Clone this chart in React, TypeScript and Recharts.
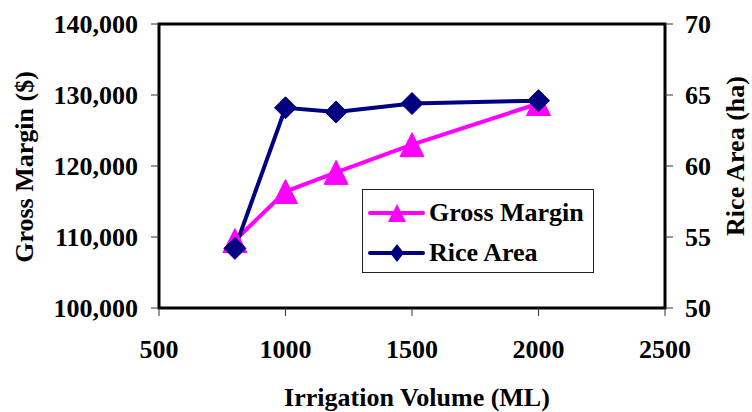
import { ComposedChart, Line, ReferenceArea, XAxis, YAxis } from "recharts";

// Irrigation volume (ML) vs. farm gross margin and rice area
const volumes = [800, 1000, 1200, 1500, 2000];
const grossMargin = [109500, 116400, 119100, 123000, 128800];
const riceArea = [54.2, 64.1, 63.8, 64.4, 64.6];

const volumeTicks = [500, 1000, 1500, 2000, 2500];
const marginTicks = [100000, 110000, 120000, 130000, 140000];
const areaTicks = [50, 55, 60, 65, 70];

const data = volumes.map((volume, i) => ({
  volume,
  grossMargin: grossMargin[i],
  riceArea: riceArea[i]
}));

const FONT = '"Liberation Serif", "Times New Roman", serif';
const PINK = "#FF00FF";
const NAVY = "#000080";

const tickStyle = { fill: "#000", fontSize: 26, fontWeight: "bold", fontFamily: FONT };

function triangle(cx: number, cy: number, half: number) {
  return `${cx},${cy - half} ${cx + half},${cy + half} ${cx - half},${cy + half}`;
}

function TriangleDot(props: any) {
  const { cx, cy, index } = props;
  if (cx == null || cy == null) return null;
  return <polygon key={`tri-${index}`} points={triangle(cx, cy, 12)} fill={PINK} stroke={PINK} />;
}

function DiamondDot(props: any) {
  const { cx, cy, index } = props;
  if (cx == null || cy == null) return null;
  return (
    <polygon
      key={`dia-${index}`}
      points={`${cx},${cy - 11} ${cx + 11},${cy} ${cx},${cy + 11} ${cx - 11},${cy}`}
      fill={NAVY}
      stroke={NAVY}
    />
  );
}

const legendItems = [
  { name: "Gross Margin", color: PINK, shape: "triangle" },
  { name: "Rice Area", color: NAVY, shape: "diamond" }
];

// boxed legend sitting inside the lower right of the plot
function ChartLegend() {
  return (
    <div
      style={{
        position: "absolute",
        left: 362,
        top: 189,
        width: 232,
        height: 84,
        boxSizing: "border-box",
        border: "1px solid #222",
        background: "#fff",
        paddingTop: 3
      }}
    >
      {legendItems.map((item) => (
        <div key={item.name} style={{ display: "flex", alignItems: "center", height: 40 }}>
          <svg width={66} height={24} style={{ flex: "none" }}>
            <line x1={7} y1={12} x2={60} y2={12} stroke={item.color} strokeWidth={4} strokeLinecap="round" />
            {item.shape === "triangle" ? (
              <polygon points={triangle(34, 12, 9)} fill={item.color} />
            ) : (
              <polygon points="34,3 41,12 34,21 27,12" fill={item.color} />
            )}
          </svg>
          <span style={{ fontFamily: FONT, fontWeight: "bold", fontSize: 26, color: "#000", lineHeight: 1 }}>
            {item.name}
          </span>
        </div>
      ))}
    </div>
  );
}

const titleStyle = { fontFamily: FONT, fontWeight: "bold", fontSize: 26, fill: "#000" } as const;

export default function App() {
  return (
    <div style={{ position: "absolute", left: 0, top: 0, width: 752, height: 412, background: "#fff" }}>
      <ComposedChart width={752} height={412} data={data} margin={{ top: 24, right: 0, bottom: 0, left: 0 }}>
        <XAxis
          dataKey="volume"
          type="number"
          domain={[500, 2500]}
          ticks={volumeTicks}
          height={104}
          axisLine={false}
          tickLine={{ stroke: "#333" }}
          tickSize={8}
          tickMargin={24}
          tick={tickStyle}
          interval={0}
          label={() => (
            <text x={417} y={406} textAnchor="middle" style={titleStyle}>
              Irrigation Volume (ML)
            </text>
          )}
        />
        <YAxis
          yAxisId="gm"
          orientation="left"
          domain={[100000, 140000]}
          ticks={marginTicks}
          width={159}
          axisLine={false}
          tickLine={{ stroke: "#333" }}
          tickSize={8}
          tickMargin={13}
          tick={tickStyle}
          interval={0}
          tickFormatter={(v: number) => v.toLocaleString("en-US")}
          label={() => (
            <text x={33} y={167} transform="rotate(-90 33 167)" textAnchor="middle" style={titleStyle}>
              Gross Margin ($)
            </text>
          )}
        />
        <YAxis
          yAxisId="ra"
          orientation="right"
          domain={[50, 70]}
          ticks={areaTicks}
          width={87}
          axisLine={false}
          tickLine={{ stroke: "#333" }}
          tickSize={8}
          tickMargin={12}
          tick={tickStyle}
          interval={0}
          label={() => (
            <text x={744} y={156} transform="rotate(-90 744 156)" textAnchor="middle" style={titleStyle}>
              Rice Area (ha)
            </text>
          )}
        />
        <ReferenceArea
          yAxisId="gm"
          x1={500}
          x2={2500}
          y1={100000}
          y2={140000}
          fill="none"
          fillOpacity={0}
          stroke="#000"
          strokeWidth={3}
        />
        <Line
          yAxisId="gm"
          dataKey="grossMargin"
          name="Gross Margin"
          stroke={PINK}
          strokeWidth={4}
          dot={TriangleDot}
          activeDot={false}
          isAnimationActive={false}
        />
        <Line
          yAxisId="ra"
          dataKey="riceArea"
          name="Rice Area"
          stroke={NAVY}
          strokeWidth={4}
          dot={DiamondDot}
          activeDot={false}
          isAnimationActive={false}
        />
      </ComposedChart>
      <ChartLegend />
    </div>
  );
}
